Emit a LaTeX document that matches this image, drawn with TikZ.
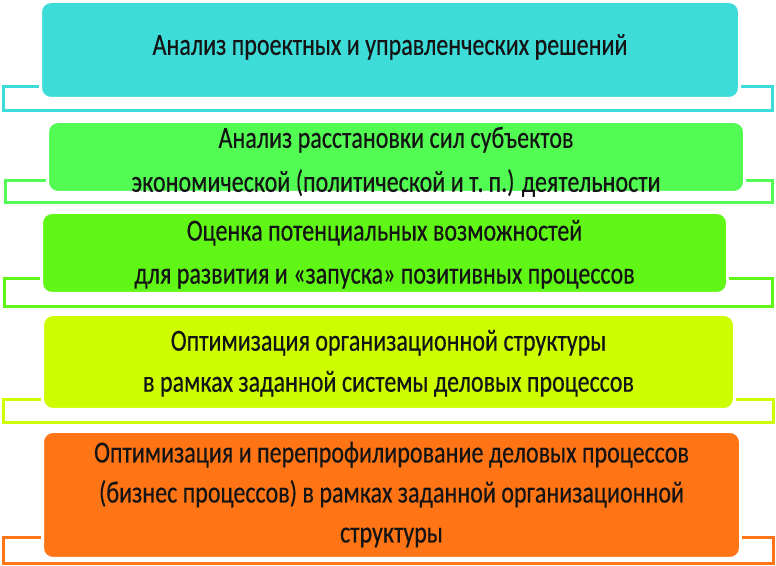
\documentclass[tikz,border=0pt]{standalone}
\usepackage{fontspec}
\setmainfont{Carlito}[FakeStretch=0.784,FakeBold=0.35]
\usetikzlibrary{fit}
\definecolor{c1}{RGB}{62,220,216}
\definecolor{c2}{RGB}{82,252,82}
\definecolor{c3}{RGB}{96,246,22}
\definecolor{c4}{RGB}{206,252,0}
\definecolor{c5}{RGB}{255,117,22}
\definecolor{ink}{RGB}{20,20,20}
\tikzset{
  box/.style={rounded corners=7.5pt, draw=white, line width=1.5pt, inner sep=0pt},
  brk/.style={line width=2.25pt},
  txt/.style={align=center, inner sep=0pt, text=ink},
}
\newcommand{\lineset}[1]{\fontsize{23pt}{#1}\selectfont}
\begin{document}
\begin{tikzpicture}[x=0.75pt,y=-0.75pt]
\useasboundingbox (0,0) rectangle (776,566);
% brackets
\draw[brk,c1] (39,87) -- (3,87) -- (3,111) -- (772,111) -- (772,87) -- (741,87);
\draw[brk,c2] (46,181) -- (5,181) -- (5,203) -- (772,203) -- (772,181) -- (746,181);
\draw[brk,c3] (40,279) -- (4,279) -- (4,307) -- (772,307) -- (772,279) -- (729,279);
\draw[brk,c4] (41,400) -- (3,400) -- (3,423) -- (773,423) -- (773,400) -- (736,400);
\draw[brk,c5] (41,538) -- (3,538) -- (3,564) -- (773,564) -- (773,538) -- (742,538);
% boxes
\node (b1) [box, fill=c1, fit={(41,2)(739,98)}] {};
\node (b2) [box, fill=c2, fit={(48,122)(744,192)}] {};
\node (b3) [box, fill=c3, fit={(42,213)(727,293)}] {};
\node (b4) [box, fill=c4, fit={(43,315)(734,409)}] {};
\node (b5) [box, fill=c5, fit={(43,432)(740,558)}] {};
% texts
\node (t1) [txt, font=\lineset{33pt}] at (390,46) {\strut Анализ проектных и управленческих решений};
\node (t2) [txt, font=\lineset{33pt}] at (396,161) {\strut Анализ расстановки сил субъектов\\\strut экономической (политической и т.\,п.) деятельности};
\node (t3) [txt, font=\lineset{32.25pt}] at (384.5,253.5) {\strut Оценка потенциальных возможностей\\\strut для развития и «запуска» позитивных процессов};
\node (t4) [txt, font=\lineset{30.75pt}] at (388.5,363) {\strut Оптимизация организационной структуры\\\strut в рамках заданной системы деловых процессов};
\node (t5) [txt, font=\lineset{30pt}] at (391.5,494.5) {\strut Оптимизация и перепрофилирование деловых процессов\\\strut (бизнес процессов) в рамках заданной организационной\\\strut структуры};
\end{tikzpicture}
\end{document}
